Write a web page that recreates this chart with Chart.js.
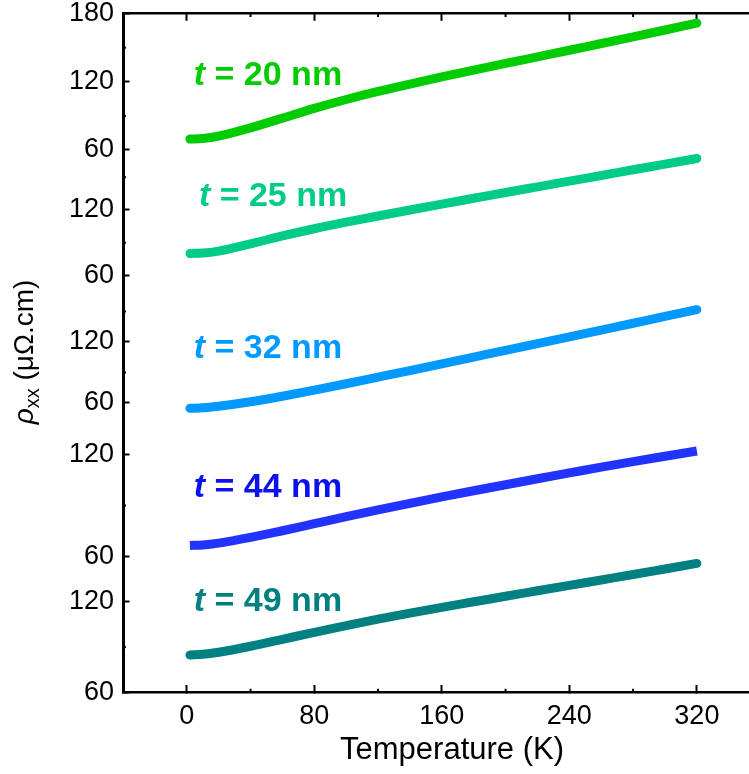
<!DOCTYPE html>
<html>
<head>
<meta charset="utf-8">
<script src="https://cdn.jsdelivr.net/npm/chart.js@4"></script>
<style>
  html, body { margin: 0; padding: 0; background: #fff; overflow: hidden; }
  canvas { display: block; }
</style>
</head>
<body>
<canvas id="rho" width="749" height="774"></canvas>
<script>
// temperature (K), shared by all films
const temperature = [2, 10, 20, 40, 60, 80, 100, 120, 140, 160, 180, 200, 220, 240, 260, 280, 300, 320];

// rho_xx (μΩ.cm), one array per film thickness
const rho20nm = [69.6, 70.1, 72.2, 79.5, 88.0, 96.6, 104.4, 111.5, 118.0, 124.2, 130.2, 136.1, 141.9, 147.7, 153.6, 159.5, 165.5, 171.6];
const rho25nm = [80.2, 80.5, 82.3, 89.0, 96.2, 102.8, 108.8, 114.5, 120.0, 125.4, 130.7, 136.0, 141.2, 146.4, 151.6, 156.8, 162.0, 167.2];
const rho32nm = [54.8, 55.2, 56.8, 61.2, 66.6, 72.6, 78.9, 85.4, 91.9, 98.5, 105.1, 111.8, 118.4, 125.0, 131.7, 138.4, 145.1, 151.8];
const rho44nm = [66.7, 67.0, 68.1, 71.4, 75.3, 79.4, 83.5, 87.5, 91.3, 95.0, 98.6, 102.1, 105.6, 109.0, 112.4, 115.6, 118.7, 121.8];
const rho49nm = [84.8, 85.2, 86.6, 90.6, 95.2, 99.8, 104.3, 108.6, 112.6, 116.4, 120.1, 123.8, 127.4, 131.0, 134.6, 138.2, 141.9, 145.6];

const thickness = ['20', '25', '32', '44', '49'];
const series = [rho20nm, rho25nm, rho32nm, rho44nm, rho49nm];

// tick values
const xTickValues = [0, 80, 160, 240, 320];
const xMinorValues = [40, 120, 200, 280];
const yTickValues = [60, 120, 180];
const yMinorValues = [30, 90, 150];

// looks
const lineColors = ['#00CC00', '#00CC88', '#0099FF', '#2233FF', '#008080'];
const textColors = ['#00CC00', '#00CC88', '#0099FF', '#0D12E8', '#008080'];
const FONT = '"Liberation Sans", Arial, sans-serif';

// one stacked y axis per film, top to bottom
const panels = [
  { id: 'y1', min: 46.8, max: 180,   weight: 151.5 },
  { id: 'y2', min: 42.1, max: 161.2, weight: 130 },
  { id: 'y3', min: 40.3, max: 166.2, weight: 128 },
  { id: 'y4', min: 49.5, max: 138.1, weight: 152 },
  { id: 'y5', min: 60,   max: 137.9, weight: 117.3 },
];

// where each "t = .. nm" label sits, in (T, rho) of its own panel
const labelAnchors = [
  { T: 4.4, rho: 117.1 },
  { T: 7.6, rho: 123.2 },
  { T: 4.4, rho: 104.3 },
  { T: 4.4, rho: 95.2 },
  { T: 4.4, rho: 113.7 },
];

Chart.defaults.font.family = FONT;
Chart.defaults.color = '#000';

function noPad(s) {
  s.paddingTop = 0;
  s.paddingBottom = 0;
  s.paddingLeft = 0;
  s.paddingRight = 0;
}

const scales = {
  x: {
    type: 'linear', position: 'bottom', min: -40, max: 352.7,
    afterBuildTicks: s => { s.ticks = xTickValues.map(v => ({ value: v })); },
    afterFit: s => { s.height = 81.7; noPad(s); },
    ticks: { font: { size: 27 }, color: '#000', padding: 15.3, autoSkip: false, maxRotation: 0 },
    grid: { drawOnChartArea: false, tickLength: -7.3, tickWidth: 2, tickColor: '#000' },
    border: { color: '#000', width: 2.5 }
  },
  xTop: {
    type: 'linear', position: 'top', min: -40, max: 352.7,
    afterBuildTicks: s => { s.ticks = xTickValues.map(v => ({ value: v })); },
    afterFit: s => { s.height = 13.5; noPad(s); },
    ticks: { display: false },
    grid: { drawOnChartArea: false, tickLength: -7.3, tickWidth: 2, tickColor: '#000' },
    border: { color: '#000', width: 2.5 }
  }
};

panels.forEach((p, i) => {
  scales[p.id] = {
    type: 'linear', position: 'left', stack: 'rho', stackWeight: p.weight, weight: panels.length - i,
    min: p.min, max: p.max,
    afterBuildTicks: s => {
      s.ticks = yTickValues.filter(v => v >= s.min && v <= s.max).map(v => ({ value: v }));
    },
    afterFit: s => { s.width = 123; noPad(s); },
    ticks: { font: { size: 27 }, color: '#000', padding: 15.5, autoSkip: false, callback: v => String(v) },
    grid: { drawOnChartArea: false, tickLength: -6.5, tickWidth: 2, tickColor: '#000' },
    border: { color: '#000', width: 3 }
  };
});

function seg(ctx, x1, y1, x2, y2) {
  ctx.beginPath();
  ctx.moveTo(x1, y1);
  ctx.lineTo(x2, y2);
  ctx.stroke();
}

const minorTicks = {
  id: 'minorTicks',
  afterDraw(chart) {
    const ctx = chart.ctx;
    const area = chart.chartArea;
    const xs = chart.scales.x;
    ctx.save();
    ctx.strokeStyle = '#000';
    ctx.lineWidth = 2;
    xMinorValues.forEach(v => {
      const px = xs.getPixelForValue(v);
      seg(ctx, px, area.bottom, px, area.bottom - 3.5);
      seg(ctx, px, area.top, px, area.top + 3.5);
    });
    panels.forEach(p => {
      const s = chart.scales[p.id];
      yMinorValues.filter(v => v > s.min && v < s.max).forEach(v => {
        const py = s.getPixelForValue(v);
        seg(ctx, area.left, py, area.left + 3, py);
      });
    });
    ctx.restore();
  }
};

const textLabels = {
  id: 'textLabels',
  afterDraw(chart) {
    const ctx = chart.ctx;
    const xs = chart.scales.x;
    ctx.save();
    ctx.textBaseline = 'alphabetic';
    ctx.textAlign = 'left';

    // film labels
    labelAnchors.forEach((a, i) => {
      const ys = chart.scales[panels[i].id];
      let px = xs.getPixelForValue(a.T);
      const py = ys.getPixelForValue(a.rho);
      ctx.fillStyle = textColors[i];
      ctx.font = 'italic bold 34px ' + FONT;
      ctx.fillText('t', px, py);
      px += ctx.measureText('t').width;
      ctx.font = 'bold 34px ' + FONT;
      ctx.fillText(' = ' + thickness[i] + ' nm', px, py);
    });

    // x title
    ctx.fillStyle = '#000';
    ctx.font = '31px ' + FONT;
    ctx.textAlign = 'center';
    ctx.fillText('Temperature (K)', 452, 759);

    // y title: rho italic, xx subscript
    ctx.textAlign = 'left';
    ctx.translate(33, 352);
    ctx.rotate(-Math.PI / 2);
    const parts = [
      { font: 'italic 28px ' + FONT, text: 'ρ', dy: 0 },
      { font: '20px ' + FONT, text: 'xx', dy: 6 },
      { font: '28px ' + FONT, text: ' (μΩ.cm)', dy: 0 }
    ];
    let w = 0;
    parts.forEach(p => { ctx.font = p.font; w += ctx.measureText(p.text).width; });
    let x = -w / 2;
    parts.forEach(p => {
      ctx.font = p.font;
      ctx.fillText(p.text, x, p.dy);
      x += ctx.measureText(p.text).width;
    });
    ctx.restore();
  }
};

new Chart(document.getElementById('rho'), {
  type: 'line',
  data: {
    datasets: series.map((vals, i) => ({
      label: 't = ' + thickness[i] + ' nm',
      data: temperature.map((t, j) => ({ x: t, y: vals[j] })),
      xAxisID: 'x',
      yAxisID: panels[i].id,
      borderColor: lineColors[i],
      borderWidth: 9,
      pointRadius: 0,
      cubicInterpolationMode: 'monotone',
      borderCapStyle: i === 3 ? 'butt' : 'round',
      borderJoinStyle: 'round',
      fill: false,
      clip: false
    }))
  },
  options: {
    responsive: false,
    devicePixelRatio: 1,
    animation: false,
    events: [],
    layout: { padding: 0 },
    plugins: { legend: { display: false }, tooltip: { enabled: false } },
    scales
  },
  plugins: [minorTicks, textLabels]
});
</script>
</body>
</html>
